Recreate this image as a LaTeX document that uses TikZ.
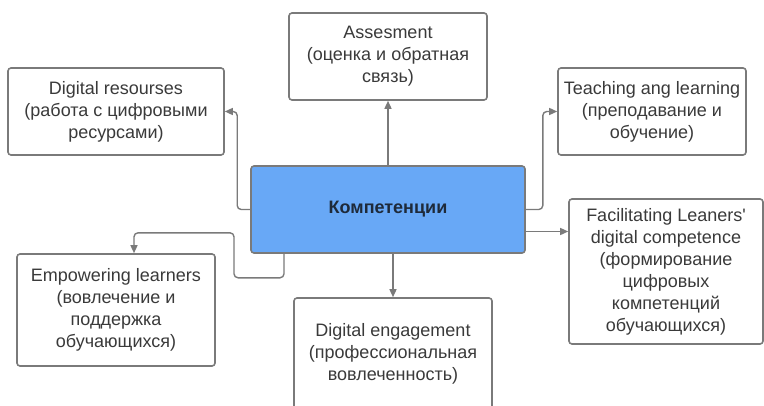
\documentclass[tikz,border=0pt]{standalone}
\usepackage{fontspec}
\setmainfont{Liberation Sans}
\usetikzlibrary{arrows.meta,calc}
\definecolor{boxline}{RGB}{122,122,122}
\definecolor{boxtext}{RGB}{58,58,58}
\definecolor{compblue}{RGB}{104,168,246}
\definecolor{comptext}{RGB}{30,42,58}
\begin{document}
\begin{tikzpicture}[x=0.5pt,y=-0.5pt,
		box/.style={draw=boxline,line width=0.8pt,rounded corners=1.5pt,fill=white,align=center,text=boxtext,font=\fontsize{9}{11}\selectfont,inner sep=0pt},
		conn/.style={draw=boxline,line width=0.7pt,rounded corners=2pt,-{Triangle[length=4pt,width=3.5pt]}}]
			\useasboundingbox (0,0) rectangle (764,406);
			\clip (0,0) rectangle (764,406);
			\node[box,fill=compblue,text=comptext,font=\fontsize{9}{11}\selectfont\bfseries,minimum width=137pt,minimum height=43.5pt] (comp) at (388,209.5) {Компетенции};
			\node[box,minimum width=108pt,minimum height=43.5pt] (res) at (116,111.5) {Digital resourses\\(работа с цифровыми\\ресурсами)};
			\node[box,minimum width=99pt,minimum height=43.5pt] (ass) at (388,56.5) {Assesment\\(оценка и обратная\\связь)};
			\node[box,minimum width=94pt,minimum height=43.5pt] (teach) at (652,111.5) {Teaching ang learning\\(преподавание и\\обучение)};
			\node[box,minimum width=97pt,minimum height=72.5pt] (fac) at (666,271.5) {Facilitating Leaners\textquotesingle\\digital competence\\(формирование\\цифровых\\компетенций\\обучающихся)};
			\node[box,minimum width=99pt,minimum height=56pt] (emp) at (116,310) {Empowering learners\\(вовлечение и\\поддержка\\обучающихся)};
			\node[box,minimum width=99pt,minimum height=56pt] (eng) at (393,354) {Digital engagement\\(профессиональная\\вовлеченность)};
			\coordinate (facout) at ([yshift=-11pt]comp.east);
			\draw[conn] (comp.west) -- ++(-13,0) |- (res.east);
			\draw[conn] (comp.north) -- (ass.south);
			\draw[conn] (comp.east) -- ++(17,0) |- (teach.west);
			\draw[conn] (facout) -- (facout -| fac.west);
			\draw[conn] (eng.north |- comp.south) -- (eng.north);
			\draw[conn] ([xshift=-52pt]comp.south) -- ++(0,24) -- ++(-50,0) -- ++(0,-45) -| ([xshift=9pt]emp.north);
		\end{tikzpicture}
\end{document}
